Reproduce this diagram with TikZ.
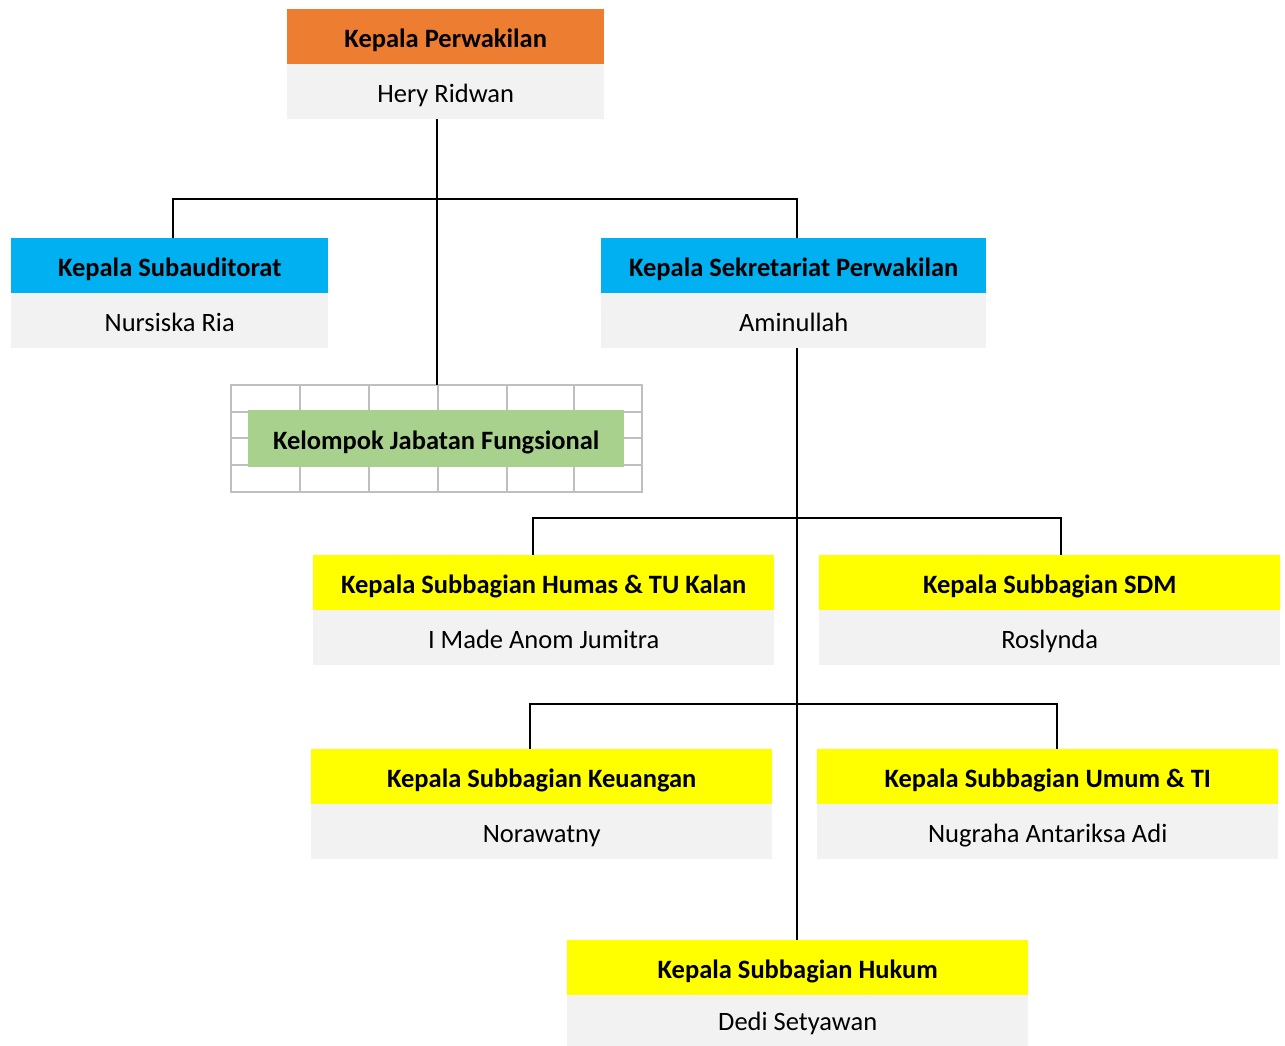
\documentclass[tikz,border=0pt]{standalone}
\usepackage{fontspec}
\setmainfont{Carlito}
\definecolor{orgC}{HTML}{ED7D31}
\definecolor{cyanC}{HTML}{00B0F0}
\definecolor{yelC}{HTML}{FFFF00}
\definecolor{grnC}{HTML}{A9D18E}
\definecolor{grayC}{HTML}{F2F2F2}
\definecolor{gridC}{HTML}{BFBFBF}
\begin{document}
\begin{tikzpicture}[x=1pt,y=-1pt,
  hdr/.style={rectangle, anchor=north west, inner sep=0pt, minimum height=55pt, text height=24pt, text depth=3pt, font=\bfseries\fontsize{26.5}{30}\selectfont},
  bod/.style={rectangle, anchor=north west, inner sep=0pt, minimum height=55pt, text height=24pt, text depth=3pt, fill=grayC, font=\fontsize{26.5}{30}\selectfont},
  conn/.style={draw=black, line width=2pt}]
\useasboundingbox[fill=white] (0,0) rectangle (1285,1046);
% grid behind fungsional
\draw[gridC, line width=1.5pt] (231,385) rectangle (642,492);
\foreach \yy in {412,438,465} \draw[gridC, line width=1.5pt] (231,\yy) -- (642,\yy);
\foreach \xx in {300,369,438,507,574} \draw[gridC, line width=1.5pt] (\xx,385) -- (\xx,492);
% boxes
\node[hdr, fill=orgC, minimum width=317pt] (p1h) at (287,9) {Kepala Perwakilan};
\node[bod, minimum width=317pt] (p1b) at (287,64) {Hery Ridwan};
\node[hdr, fill=cyanC, minimum width=317pt] (sah) at (11,238) {Kepala Subauditorat};
\node[bod, minimum width=317pt] (sab) at (11,293) {Nursiska Ria};
\node[hdr, fill=cyanC, minimum width=385pt] (skh) at (601,238) {Kepala Sekretariat Perwakilan};
\node[bod, minimum width=385pt] (skb) at (601,293) {Aminullah};
\node[hdr, fill=grnC, minimum width=376pt, minimum height=57pt] (kjf) at (248,410) {Kelompok Jabatan Fungsional};
\node[hdr, fill=yelC, minimum width=461pt] (hmh) at (313,555) {Kepala Subbagian Humas \& TU Kalan};
\node[bod, minimum width=461pt] (hmb) at (313,610) {I Made Anom Jumitra};
\node[hdr, fill=yelC, minimum width=461pt] (sdh) at (819,555) {Kepala Subbagian SDM};
\node[bod, minimum width=461pt] (sdb) at (819,610) {Roslynda};
\node[hdr, fill=yelC, minimum width=461pt] (kuh) at (311,749) {Kepala Subbagian Keuangan};
\node[bod, minimum width=461pt] (kub) at (311,804) {Norawatny};
\node[hdr, fill=yelC, minimum width=461pt] (umh) at (817,749) {Kepala Subbagian Umum \& TI};
\node[bod, minimum width=461pt] (umb) at (817,804) {Nugraha Antariksa Adi};
\node[hdr, fill=yelC, minimum width=461pt] (hkh) at (567,940) {Kepala Subbagian Hukum};
\node[bod, minimum width=461pt, minimum height=51pt, text height=22pt] (hkb) at (567,995) {Dedi Setyawan};
% junction coordinates
\coordinate (j1) at (437,199);
\coordinate (j1l) at (173,199);
\coordinate (j1r) at (797,199);
\coordinate (j2) at (797,518);
\coordinate (j2l) at (533,518);
\coordinate (j2r) at (1061,518);
\coordinate (j3) at (797,704);
\coordinate (j3l) at (530,704);
\coordinate (j3r) at (1057,704);
% connectors
\draw[conn] (p1b.south -| j1) -- (j1 |- {(0,385)});
\draw[conn] (sah.north -| j1l) -- (j1l) -- (j1r) -- (skh.north -| j1r);
\draw[conn] (skb.south -| j2) -- (hkh.north -| j2);
\draw[conn] (hmh.north -| j2l) -- (j2l) -- (j2r) -- (sdh.north -| j2r);
\draw[conn] (kuh.north -| j3l) -- (j3l) -- (j3r) -- (umh.north -| j3r);
\end{tikzpicture}
\end{document}
